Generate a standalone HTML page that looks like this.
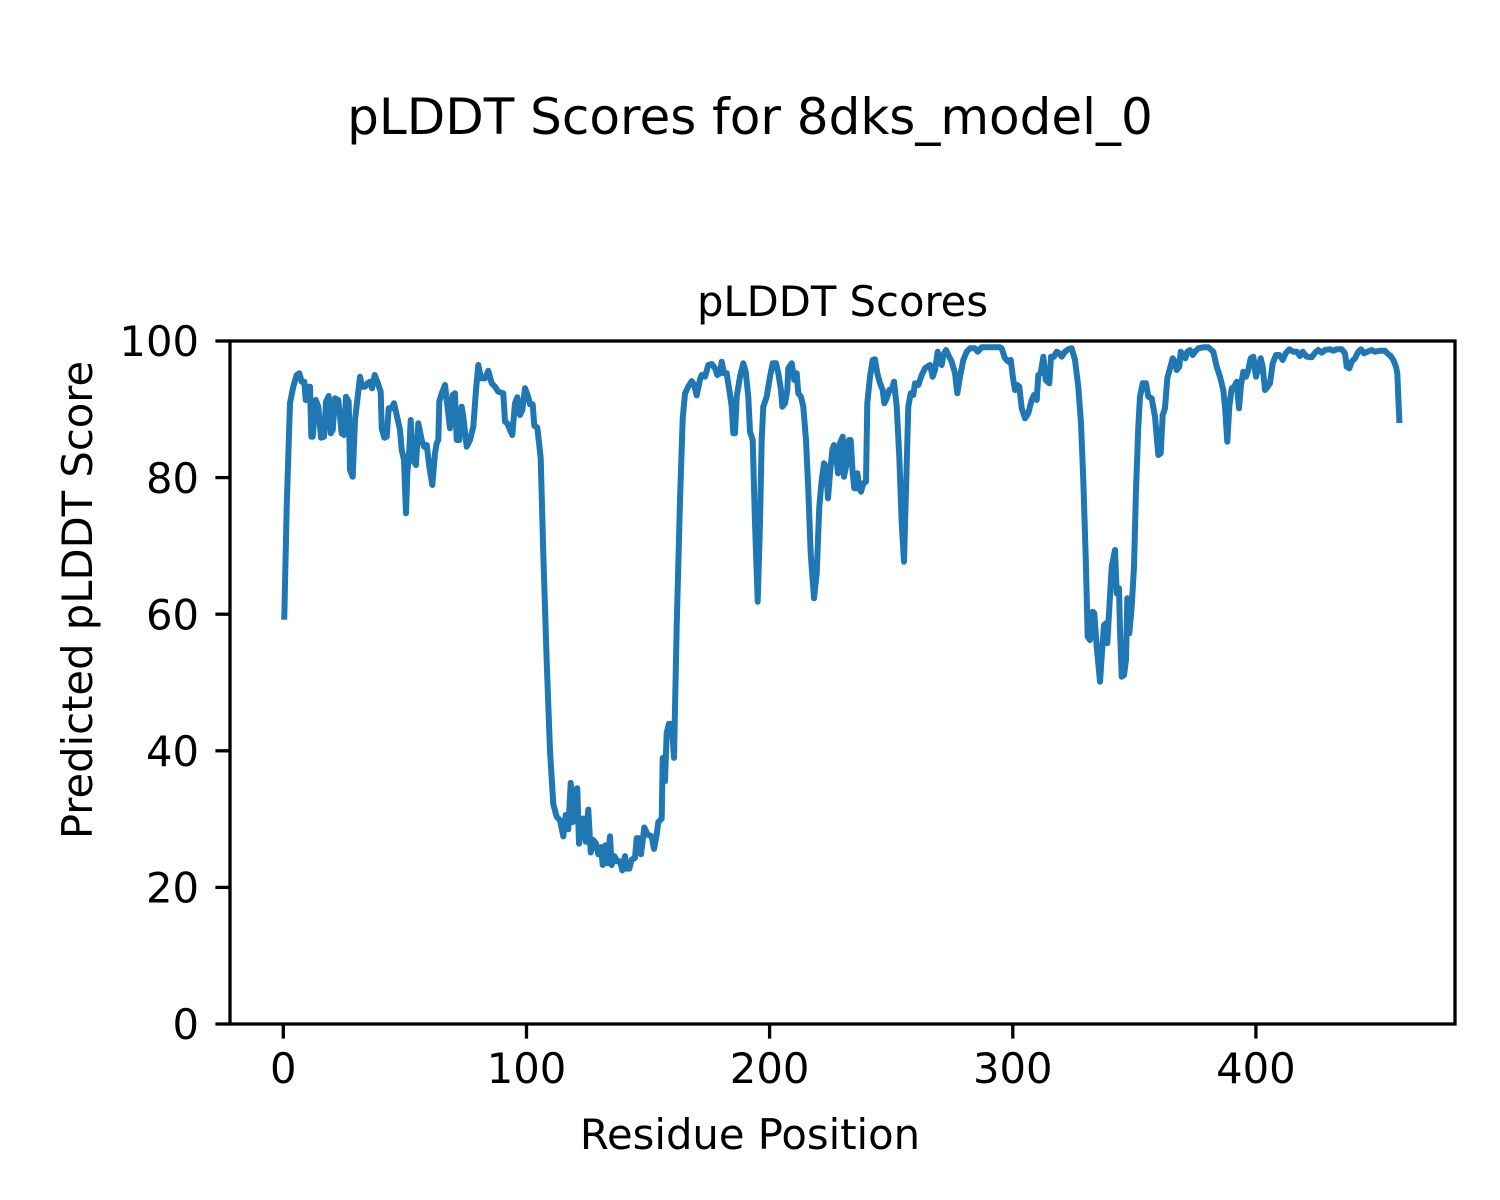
<!DOCTYPE html>
<html>
<head>
<meta charset="utf-8">
<style>
html,body{margin:0;padding:0;background:#fff;}
svg{display:block;}
text{font-family:"DejaVu Sans","Liberation Sans",sans-serif;fill:#000;}
</style>
</head>
<body>
<svg width="1500" height="1200" viewBox="0 0 1500 1200" xmlns="http://www.w3.org/2000/svg">
<rect x="0" y="0" width="1500" height="1200" fill="#fff"/>
<text x="750" y="134" font-size="50" text-anchor="middle">pLDDT Scores for 8dks_model_0</text>
<text x="842.5" y="316" font-size="41.7" text-anchor="middle">pLDDT Scores</text>
<defs><clipPath id="ax"><rect x="230" y="341" width="1225" height="683"/></clipPath></defs>
<polyline clip-path="url(#ax)" fill="none" stroke="#1f77b4" stroke-width="6" stroke-linejoin="round" stroke-linecap="square" points="284.3,616.7 286.7,506.7 290,403 293.3,386.7 296.7,375 299.3,373.3 301.7,381.7 304.3,381.7 305.7,400 307.7,386.7 310,386.7 311.3,436.7 312.7,436.7 315.7,400 318.3,406.7 321,437.7 324,436.7 326,401.7 328.7,396 330.7,433.3 332.7,430 335,398.3 338.3,400 341.7,433.3 344,435 346,396.7 348.7,401.7 350,470 352.7,476.7 355,420 357.7,396.7 360,376.7 362,386.7 365,386.7 367.3,383.3 370,381.7 372,388.3 374.7,375 377.3,381.7 380.7,391.7 381.7,428.3 384.3,437.7 386.7,436.7 388.7,408.3 391.3,408.3 394,403.3 396.7,415 400,430 401.7,450 404,460 406,513.3 407.3,473.3 409.3,450 410.7,420 412.7,460 416,465 418.3,423.3 421.7,440 424,446.7 426.7,445 429.3,466.7 432.3,485 435,453.3 436.7,443.3 438.3,440 439.3,401.7 441.7,393.3 445,385 447.3,405 450,428.3 452.7,395 455,393.3 456.7,440 459.3,440 461.7,406.7 463.3,416.7 466.7,446.7 470,440 473.3,426.7 476,390 478.3,365 481,378.3 485,378.3 488.3,370.7 491.7,383.3 495,386.7 498.3,391.7 503.3,393.3 505,421.7 507.3,423.3 510,430 512.3,435 515,403.3 517.3,397.3 520,415 522.3,410 525,388.2 528.3,397.1 530,404.3 532.7,404.3 534.3,425.7 537.3,427.5 540.7,457.9 543.3,554.3 546.7,661.4 550,750.7 553.3,804.3 556.7,816.8 560,820.4 563.3,836.4 565.7,815 568.3,829.3 570.7,782.9 572.7,822.1 575,790 577.3,788.2 579,843.6 581.7,818.6 584,818.6 585.7,841.8 588.3,809.6 590.7,852.5 593.3,840 596,843.6 598.3,854.3 601,847.1 602.7,865 605.3,845.4 607.3,863.2 610,836.4 611.7,865 614.3,856.1 617.3,861.4 620,861.4 622.3,870.4 625,856.1 626.7,868.6 629.3,868.6 631.7,859.6 635,857.9 636.7,838.2 639.3,838.2 641,854.3 644.3,827.5 647.7,834.6 651.7,836.4 654,848.9 656.7,834.6 658.3,822.1 661.7,818.6 662.7,757.9 665,781.1 666.7,732.9 669,723.9 671.7,723.9 674,757.9 676.7,625.7 680,500.7 682.7,418.6 685,393.6 688.3,386.4 691.7,381.1 694,384.6 696.7,395.4 700,379.3 701.7,375 705,376.7 708.3,365 711.7,364 715,368.3 717.3,375 720,373.3 721.7,361.7 724,373.3 726.7,373.3 729.3,390 731.7,406.7 733.3,433.3 735,433.3 736.7,396.7 740,376.7 743.3,363.3 745.7,371.7 748.3,396.7 750,431.7 752.7,440 755,523.3 757.7,601.7 760,523.3 761.7,440 763.3,406.7 766.7,396.7 770,376.7 772.7,363.3 776,363.3 778.3,373.3 781,390 782.3,406.7 785,403.3 787.3,390 788.3,368.3 791.7,363.3 794.3,380 796.7,373.3 798.3,393.3 801,396.7 803.3,406.7 806,440 808.3,490 810.7,553.3 814,598.3 816.7,573.3 819.3,506.7 821.7,480 824,463.3 826,466.7 828,498.3 830,473.3 832.3,450 834,445 836,453.3 838,473.3 840,443.3 842.7,436.7 844,476.7 846.7,463.3 849,440 850.7,440 852.7,473.3 854.3,488.3 856.7,488.3 857.3,473.3 859.3,486.7 861,491.7 863.3,483.3 866,481.7 867.3,403.3 870,376.7 872.7,360 875,359.3 877.3,373.3 880,383.3 882.7,390 884.3,403.3 886.7,398.3 889.3,390 891.7,390 894,381.7 896.7,406.7 899.3,456.7 901.7,523.3 904,561.7 906,490 908.3,406.7 910.7,393.3 913.3,395 915,383.3 918.3,385 921.7,375 925,368.3 930,365 932.7,376.7 935,370 937.7,351.7 939.3,360 941.7,365 943.3,355 946,350 948.3,355 951.7,361.7 955,373.3 957.3,393.3 960,376.7 963.3,360 966.7,351.7 970,348.3 975,348.3 977.7,351.7 981.7,347.3 990,347.3 1000,347.3 1001.7,348.3 1005,358.3 1008.3,361.7 1010.7,360 1013.3,380 1015,390 1017.3,385 1019.3,386.7 1021.7,408.3 1025,418.3 1028.3,413.3 1031.7,400 1034,395 1036.7,400 1038.3,375 1040.7,373.3 1043.3,356.7 1045.7,380 1049.3,383.3 1051,356.7 1054,356.7 1056.7,351.7 1059.3,353.3 1061.7,356.7 1065,351.7 1068.3,349.3 1071.7,348.3 1075,360 1078.3,386.7 1081,423.3 1083.3,480 1085.7,556.7 1087.7,636.7 1090,640 1092.7,611.7 1094.3,613.3 1096.7,646.7 1100,681.7 1101.7,656.7 1104,625 1106,623.3 1107.3,643.3 1109.3,608.3 1111.7,566.7 1115,550 1116.7,593.3 1119,588.3 1120,630 1121.7,676.7 1124,675 1126,660 1127.3,598.3 1129.3,633.3 1131.7,606.7 1134,566.7 1136,490 1138.3,426.7 1140,396.7 1142.7,383.3 1146,383.3 1148.3,396.7 1151.7,398.3 1155,416.7 1158.3,455 1160.7,453.3 1162.7,415 1165,408.3 1167.3,378.3 1170,368.3 1172.7,358.3 1175,361.7 1176.7,370 1179.3,366.7 1180.7,351.7 1182.7,355 1185.3,358.3 1187.3,351.7 1190,350 1192.7,355 1195,351.7 1198.3,348.3 1203.3,347.3 1208.3,347.3 1213.3,351.7 1216.7,366.7 1220,376.7 1223.3,390 1225,406.7 1227.3,441.7 1229.3,406.7 1231.7,388.3 1234.3,386.7 1236.7,381.7 1239,408.3 1241,385 1243.3,371.7 1246,376.7 1248.3,370 1250.7,358.3 1253.3,356.7 1256,376.7 1258.3,368.3 1260.7,358.3 1262.7,366.7 1265,390 1267.7,386.7 1270,383.3 1272.7,363.3 1276,355 1279.3,355 1282.7,360 1285.7,353.3 1289.3,349.3 1293.3,351.7 1296.7,351.7 1300,356 1302.7,351.7 1306.7,356.7 1311.7,357.3 1315,352.7 1318.3,350 1321.7,352.7 1325,350 1330,349.3 1333.3,350.7 1336.7,349.3 1341.7,349.3 1345,353.3 1346.7,366.7 1349.3,368.3 1351.7,361.7 1355,358.3 1358.3,351.7 1361,349.3 1364,353.3 1367.3,351.7 1371.7,350 1375,351.7 1380,350.7 1385,350.7 1387.3,353.3 1390.7,356 1393.3,360 1396,366.7 1397.3,373.3 1399.3,420"/>
<rect x="230" y="341" width="1225" height="683" fill="none" stroke="#000" stroke-width="3.3" stroke-linecap="square"/>
<g stroke="#000" stroke-width="3.3">
<line x1="215.4" y1="1024" x2="230" y2="1024"/>
<line x1="215.4" y1="887.4" x2="230" y2="887.4"/>
<line x1="215.4" y1="750.8" x2="230" y2="750.8"/>
<line x1="215.4" y1="614.2" x2="230" y2="614.2"/>
<line x1="215.4" y1="477.6" x2="230" y2="477.6"/>
<line x1="215.4" y1="341" x2="230" y2="341"/>
<line x1="283.3" y1="1024" x2="283.3" y2="1038.6"/>
<line x1="526.5" y1="1024" x2="526.5" y2="1038.6"/>
<line x1="769.6" y1="1024" x2="769.6" y2="1038.6"/>
<line x1="1012.8" y1="1024" x2="1012.8" y2="1038.6"/>
<line x1="1255.9" y1="1024" x2="1255.9" y2="1038.6"/>
</g>
<g font-size="41.7" text-anchor="end">
<text x="199" y="1039">0</text>
<text x="199" y="902.5">20</text>
<text x="199" y="766">40</text>
<text x="199" y="629.5">60</text>
<text x="199" y="493">80</text>
<text x="199" y="356">100</text>
</g>
<g font-size="41.7" text-anchor="middle">
<text x="283.3" y="1083">0</text>
<text x="526.5" y="1083">100</text>
<text x="769.6" y="1083">200</text>
<text x="1012.8" y="1083">300</text>
<text x="1255.9" y="1083">400</text>
</g>
<text x="750" y="1149" font-size="41.7" text-anchor="middle">Residue Position</text>
<text transform="translate(92,600) rotate(-90)" font-size="41.7" text-anchor="middle">Predicted pLDDT Score</text>
</svg>
</body>
</html>
